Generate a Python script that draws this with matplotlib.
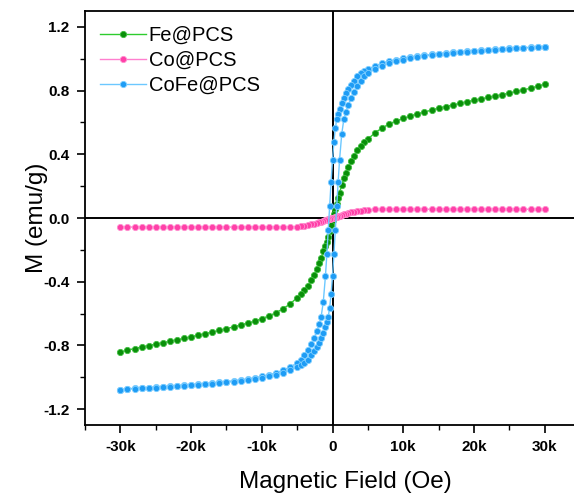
import matplotlib
matplotlib.use("Agg")
import matplotlib.pyplot as plt
from matplotlib.ticker import FuncFormatter, MultipleLocator

plt.rcParams["font.family"] = ["Liberation Sans", "DejaVu Sans"]

# field sweep from +30 kOe down to -30 kOe (values in Oe)
field_down = [
    30000, 29000, 28000, 27000, 26000, 25000, 24000, 23000, 22000, 21000,
    20000, 19000, 18000, 17000, 16000, 15000, 14000, 13000, 12000, 11000,
    10000, 9000, 8000, 7000, 6000,
    5000, 4500, 4000, 3500, 3000, 2600, 2200, 1900, 1600, 1300,
    1000, 800, 600, 400, 200,
    0,
    -200, -400, -600, -800, -1000, -1300, -1600, -1900, -2200, -2600,
    -3000, -3500, -4000, -4500, -5000,
    -6000, -7000, -8000, -9000, -10000, -11000, -12000, -13000, -14000, -15000,
    -16000, -17000, -18000, -19000, -20000, -21000, -22000, -23000, -24000, -25000,
    -26000, -27000, -28000, -29000, -30000,
]
# return sweep from -30 kOe back up to +30 kOe
field_up = field_down[::-1]

fe_m = [
    0.840, 0.828, 0.815, 0.805, 0.795, 0.785, 0.775, 0.766, 0.757, 0.748,
    0.740, 0.730, 0.720, 0.710, 0.700, 0.690, 0.678, 0.665, 0.655, 0.640,
    0.625, 0.610, 0.590, 0.565, 0.535,
    0.495, 0.475, 0.455, 0.425, 0.390, 0.355, 0.318, 0.285, 0.250, 0.205,
    0.160, 0.125, 0.090, 0.055, 0.025,
    -0.010,
    -0.045, -0.080, -0.120, -0.150, -0.175, -0.210, -0.250, -0.285, -0.318, -0.355,
    -0.390, -0.425, -0.455, -0.480, -0.500,
    -0.540, -0.570, -0.595, -0.615, -0.632, -0.648, -0.660, -0.672, -0.684, -0.695,
    -0.706, -0.716, -0.726, -0.736, -0.746, -0.756, -0.765, -0.774, -0.783, -0.792,
    -0.801, -0.810, -0.820, -0.830, -0.842,
]

co_m = [
    0.055, 0.055, 0.055, 0.055, 0.055, 0.055, 0.055, 0.055, 0.055, 0.055,
    0.055, 0.055, 0.055, 0.055, 0.055, 0.055, 0.055, 0.055, 0.055, 0.055,
    0.055, 0.055, 0.055, 0.055, 0.054,
    0.052, 0.050, 0.047, 0.043, 0.038, 0.035, 0.031, 0.027, 0.023, 0.019,
    0.015, 0.012, 0.009, 0.006, 0.003,
    0.000,
    -0.003, -0.006, -0.009, -0.012, -0.015, -0.019, -0.024, -0.028, -0.032, -0.036,
    -0.040, -0.045, -0.049, -0.052, -0.054,
    -0.056, -0.057, -0.057, -0.057, -0.057, -0.057, -0.057, -0.057, -0.057, -0.057,
    -0.057, -0.057, -0.057, -0.057, -0.057, -0.057, -0.057, -0.057, -0.057, -0.057,
    -0.057, -0.057, -0.057, -0.057, -0.057,
]

cofe_m_down = [
    1.077, 1.075, 1.072, 1.070, 1.067, 1.065, 1.062, 1.059, 1.056, 1.053,
    1.050, 1.047, 1.043, 1.040, 1.036, 1.032, 1.027, 1.022, 1.017, 1.011,
    1.004, 0.995, 0.985, 0.972, 0.955,
    0.936, 0.926, 0.911, 0.891, 0.861, 0.838, 0.808, 0.782, 0.752, 0.720,
    0.683, 0.652, 0.619, 0.564, 0.478,
    0.366,
    0.228, 0.075, -0.075, -0.228, -0.366, -0.525, -0.619, -0.668, -0.708, -0.752,
    -0.792, -0.832, -0.861, -0.891, -0.911,
    -0.936, -0.955, -0.973, -0.985, -0.995, -1.004, -1.011, -1.017, -1.022, -1.027,
    -1.032, -1.036, -1.040, -1.043, -1.047, -1.050, -1.053, -1.056, -1.059, -1.062,
    -1.065, -1.067, -1.070, -1.072, -1.080,
]

cofe_m_up = [
    -1.080, -1.075, -1.072, -1.070, -1.067, -1.065, -1.062, -1.059, -1.056, -1.053,
    -1.050, -1.047, -1.043, -1.040, -1.036, -1.032, -1.027, -1.022, -1.017, -1.011,
    -1.004, -0.995, -0.985, -0.972, -0.955,
    -0.936, -0.926, -0.911, -0.891, -0.861, -0.838, -0.808, -0.782, -0.752, -0.720,
    -0.683, -0.652, -0.619, -0.564, -0.478,
    -0.366,
    -0.228, -0.075, 0.075, 0.228, 0.366, 0.525, 0.619, 0.668, 0.708, 0.752,
    0.792, 0.832, 0.861, 0.891, 0.911,
    0.936, 0.955, 0.973, 0.985, 0.995, 1.004, 1.011, 1.017, 1.022, 1.027,
    1.032, 1.036, 1.040, 1.043, 1.047, 1.050, 1.053, 1.056, 1.059, 1.062,
    1.065, 1.067, 1.070, 1.072, 1.077,
]


def k_fmt(v, pos):
    if abs(v) < 1e-6:
        return "0"
    return f"{int(round(v / 1000))}k"


def y_fmt(v, pos):
    return f"{v:.1f}"


fig = plt.figure(figsize=(5.74, 4.95), dpi=100)
ax = fig.add_axes([85 / 574, 70 / 495, 495 / 574, 414 / 495])

ax.axhline(0, color="black", lw=1.4, zorder=1)
ax.axvline(0, color="black", lw=1.4, zorder=1)

marker_kw = dict(marker="o", markersize=4.5, lw=1.0, markeredgewidth=0.6)

ax.plot(field_down, fe_m, color="#2ecc2e", markerfacecolor="#0a8f0a",
        markeredgecolor="#3fbf3f", label="Fe@PCS", zorder=3, **marker_kw)
ax.plot(field_down, co_m, color="#ff7fcf", markerfacecolor="#ff40a8",
        markeredgecolor="#ff8fd0", label="Co@PCS", zorder=3, **marker_kw)
cofe_color = "#6cc8ff"
ax.plot(field_down, cofe_m_down, color=cofe_color, markerfacecolor="#1e9cf5",
        markeredgecolor="#7fcfff", label="CoFe@PCS", zorder=4, **marker_kw)
ax.plot(field_up, cofe_m_up, color=cofe_color, markerfacecolor="#1e9cf5",
        markeredgecolor="#7fcfff", zorder=4, **marker_kw)

ax.set_xlim(-35000, 35000)
ax.set_ylim(-1.3, 1.3)

ax.xaxis.set_major_locator(MultipleLocator(10000))
ax.xaxis.set_minor_locator(MultipleLocator(5000))
ax.yaxis.set_major_locator(MultipleLocator(0.4))
ax.yaxis.set_minor_locator(MultipleLocator(0.2))
ax.xaxis.set_major_formatter(FuncFormatter(k_fmt))
ax.yaxis.set_major_formatter(FuncFormatter(y_fmt))

ax.tick_params(which="major", direction="out", length=6, width=1.2,
               labelsize=11, pad=5)
ax.tick_params(which="minor", direction="out", length=3.5, width=1.0)
for lbl in ax.get_xticklabels() + ax.get_yticklabels():
    lbl.set_fontweight("bold")
for sp in ax.spines.values():
    sp.set_linewidth(1.3)

ax.set_xlabel("Magnetic Field (Oe)", fontsize=17.5, labelpad=12)
ax.xaxis.label.set_x(0.525)
ax.set_ylabel("M (emu/g)", fontsize=17.5, labelpad=-3)

ax.legend(loc="upper left", frameon=False, fontsize=14.5, handlelength=2.3,
          handletextpad=0.12, labelspacing=0.3, borderaxespad=0.35,
          bbox_to_anchor=(0.0, 1.0))

fig.savefig("out.png", dpi=100)
